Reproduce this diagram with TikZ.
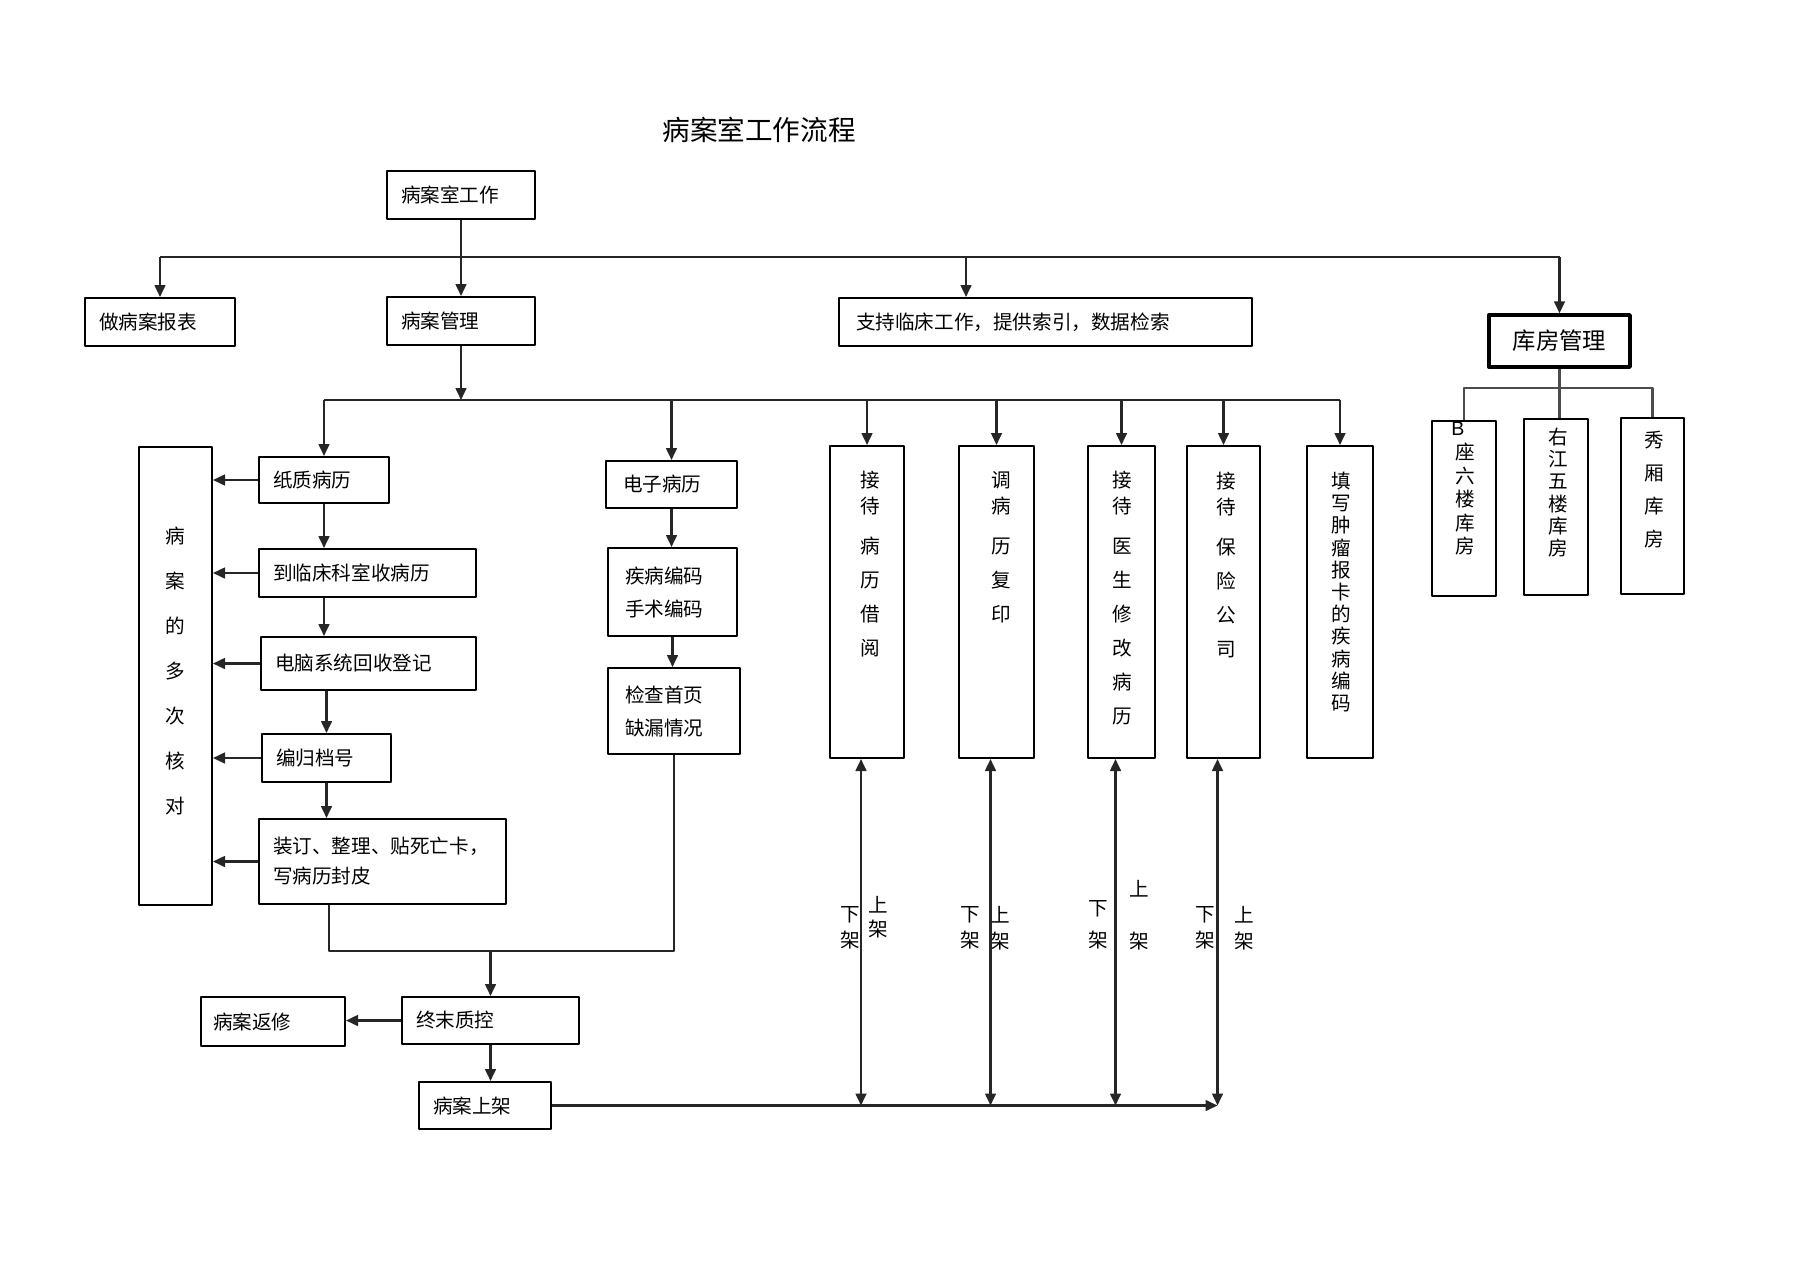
\documentclass[tikz,border=0pt]{standalone}
\usepackage{fontspec}
\newfontfamily\cjk{Noto Sans CJK SC}
\newfontfamily\lat{Liberation Sans}
\usetikzlibrary{arrows.meta}

\begin{document}
\begin{tikzpicture}[x=0.5pt,y=-0.5pt,>={Triangle[length=6pt,width=5.4pt]},line join=round,
	font=\cjk\fontsize{9.8}{13}\selectfont,
	box/.style={draw,line width=1pt,inner xsep=7pt,inner ysep=0pt,align=left},
	tall/.style={draw,line width=1pt,minimum height=156pt,inner sep=0pt},
	col/.style={align=center,inner sep=0pt},
	lk/.style={line width=1.1pt,draw=black!85},
	arr/.style={lk,->}]
	\useasboundingbox (0,0) rectangle (1804,1274);
	\node[font=\cjk\fontsize{13.8}{16}\selectfont] (title) at (759,130) {病案室工作流程};
	% top level
	\node[box,text width=60pt,minimum height=24pt] (gz) at (461,195) {病案室工作};
	\node[box,text width=61pt,minimum height=24pt] (bb) at (160,322) {做病案报表};
	\node[box,text width=60pt,minimum height=24pt] (gl) at (461,321) {病案管理};
	\node[box,text width=189.5pt,inner xsep=8.5pt,minimum height=24pt] (zc) at (1045.5,322) {支持临床工作，提供索引，数据检索};
	\node[box,line width=1.7pt,minimum width=70.5pt,minimum height=26pt,align=center,font=\cjk\fontsize{11.7}{14}\selectfont] (kf) at (1559.5,341) {库房管理};
	% paper records
	\node[box,text width=51pt,minimum height=23pt] (zz) at (324,480) {纸质病历};
	\node[box,text width=94.5pt,minimum height=24pt] (lc) at (367.5,573) {到临床科室收病历};
	\node[box,text width=93.5pt,minimum height=26.5pt] (dn) at (368.5,663.5) {电脑系统回收登记};
	\node[box,text width=50.5pt,minimum height=24pt] (bg) at (326.5,758) {编归档号};
	\node[box,text width=109.5pt,minimum height=42.5pt,font=\cjk\fontsize{9.8}{15}\selectfont] (zd) at (382.5,861.5) {装订、整理、贴死亡卡，\\写病历封皮};
	\node[draw,line width=1pt,minimum width=36.5pt,minimum height=229pt] (hd) at (175.5,676) {};
	\node[col,font=\cjk\fontsize{9.8}{22.5}\selectfont] (hdt) at (175,671.5) {病\\案\\的\\多\\次\\核\\对};
	% electronic records
	\node[box,text width=48.5pt,inner xsep=8.5pt,minimum height=23.5pt] (dz) at (671.5,484.5) {电子病历};
	\node[box,text width=47.5pt,inner xsep=8.5pt,minimum height=44pt,font=\cjk\fontsize{9.8}{16.5}\selectfont] (jb) at (672.5,592) {疾病编码\\手术编码};
	\node[box,text width=49pt,inner xsep=8.5pt,minimum height=43pt,font=\cjk\fontsize{9.8}{16.5}\selectfont] (jc) at (674,711) {检查首页\\缺漏情况};
	% final check
	\node[box,text width=74.5pt,minimum height=23.5pt] (zm) at (490.5,1020.5) {终末质控};
	\node[box,text width=60pt,inner xsep=6pt,minimum height=24.5pt] (fx) at (273,1021.5) {病案返修};
	\node[box,text width=52pt,minimum height=23.5pt] (sj) at (485,1105.5) {病案上架};
	% service columns
	\foreach \n/\x/\w in {t1/867/37pt,t2/996.5/37.5pt,t3/1121.5/33.5pt,t4/1223.5/36.5pt,t5/1340/33pt}
		\node[tall,minimum width=\w] (\n) at (\x,602) {};
	\node[col] (c1) at (870,564.5) {接\\待\\[7pt]病\\[4pt]历\\[4pt]借\\[4pt]阅};
	\node[col] (c2) at (1001,547.5) {调\\病\\[7pt]历\\[4pt]复\\[4pt]印};
	\node[col] (c3) at (1122,598.5) {接\\待\\[7pt]医\\[4pt]生\\[4pt]修\\[4pt]改\\[4pt]病\\[4pt]历};
	\node[col] (c4) at (1226,565) {接\\待\\[7pt]保\\[4pt]险\\[4pt]公\\[4pt]司};
	\node[col,font=\cjk\fontsize{9.8}{11.1}\selectfont] (c5) at (1341,592) {填\\写\\肿\\瘤\\报\\卡\\的\\疾\\病\\编\\码};
	% store rooms
	\node[draw,line width=1pt,minimum width=32pt,minimum height=87.5pt] (k1) at (1464,508.5) {};
	\node[draw,line width=1pt,minimum width=32pt,minimum height=88pt] (k2) at (1556,507) {};
	\node[draw,line width=1.3pt,minimum width=31.5pt,minimum height=88pt] (k3) at (1652.5,506) {};
	\node[col,font=\cjk\fontsize{9.8}{11.8}\selectfont] (k1t) at (1465,489) {{\lat B}\hspace*{7pt}\\座\\六\\楼\\库\\房};
	\node[col,font=\cjk\fontsize{9.8}{11.1}\selectfont] (k2t) at (1558,492.5) {右\\江\\五\\楼\\库\\房};
	\node[col,font=\cjk\fontsize{9.8}{16.5}\selectfont] (k3t) at (1654,489.5) {秀\\厢\\库\\房};
	% shelf labels
	\node[col] (x1) at (850,928) {下\\架};
	\node[col] (s1) at (878,917) {上\\[-1pt]架};
	\node[col] (x2) at (970,928) {下\\架};
	\node[col] (s2) at (1000,928) {上\\架};
	\node[col] (x3) at (1098,925) {下\\[3pt]架};
	\node[col] (s3) at (1139,915) {上\\[13pt]架};
	\node[col] (x4) at (1205,928) {下\\架};
	\node[col] (s4) at (1244,928) {上\\架};
	% connectors
	\coordinate (b1) at (461,257);
	\coordinate (zcin) at ([xshift=-39.75pt]zc.north);
	\draw[lk] (b1 -| bb.north) -- (b1 -| kf.north);
	\draw[arr] (gz) -- (gl);
	\draw[arr] (b1 -| bb.north) -- (bb.north);
	\draw[arr] (zcin |- b1) -- (zcin);
	\draw[arr] (b1 -| kf.north) -- (kf.north);
	\coordinate (b2) at (461,400);
	\draw[arr] (gl) -- (b2);
	\draw[lk] (b2 -| zz.north) -- (b2 -| t5.north);
	\foreach \n in {zz,dz,t1,t2,t3,t4,t5}
		\draw[arr] (b2 -| \n.north) -- (\n.north);
	\foreach \n in {zz,lc,dn,bg,zd}
		\draw[arr] (\n.west) -- (\n.west -| hd.east);
	\draw[arr] (zz.south) -- (zz.south |- lc.north);
	\draw[arr] (lc.south -| zz.south) -- (dn.north -| zz.south);
	\draw[arr] (dn.south -| bg.north) -- (bg.north);
	\draw[arr] (bg.south) -- (bg.south |- zd.north);
	\draw[arr] (dz.south) -- (dz.south |- jb.north);
	\draw[arr] (jb.south) -- (jb.south |- jc.north);
	\coordinate (hb) at (490.5,951);
	\draw[lk] ([xshift=-26.75pt]zd.south) |- (hb) -| (jc.south);
	\draw[arr] (hb) -- (zm);
	\draw[arr] (zm.west) -- (zm.west -| fx.east);
	\draw[arr] (zm.south) -- (zm.south |- sj.north);
	\foreach \n in {t1,t2,t3,t4}{
		\coordinate (\n-b) at ([xshift=-3pt]\n.south);
		\draw[lk,<->] (\n-b) -- (\n-b |- sj.east);
	}
	\draw[arr] (sj.east) -- (sj.east -| t4-b);
	\coordinate (kb) at (1560,388);
	\draw[lk,draw=black!70] (kf.south) -- (kf.south |- k2.north);
	\draw[lk,draw=black!70] (k1.north) |- (kb) -| (k3.north);
\end{tikzpicture}
\end{document}
